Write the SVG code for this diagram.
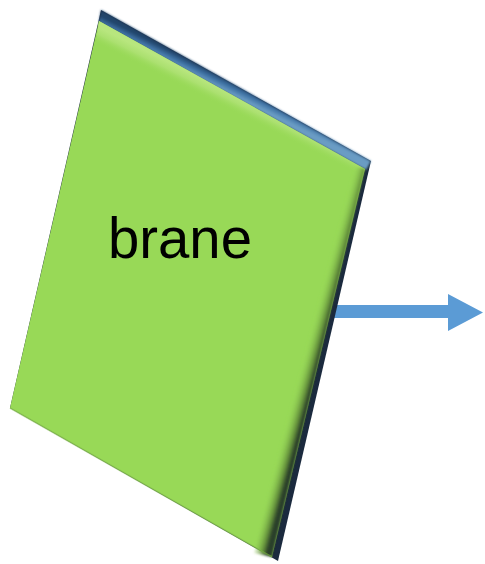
<svg xmlns="http://www.w3.org/2000/svg" width="485" height="564" viewBox="0 0 485 564">
  <style>
    .label { font-family: "Liberation Sans", Arial, sans-serif; font-size: 57px; fill: #000; }
    .arrow { fill: #5b9bd5; }
  </style>
  <defs>
    <!-- bevel along the top edge: dark blue rim fading into the face -->
    <linearGradient id="topRim" gradientUnits="userSpaceOnUse" x1="237" y1="84" x2="232" y2="94">
      <stop offset="0" stop-color="#22446a"/>
      <stop offset="0.5" stop-color="#3f72a4"/>
      <stop offset="1" stop-color="#6a9cc4"/>
    </linearGradient>
    <linearGradient id="topGlow" gradientUnits="userSpaceOnUse" x1="232" y1="94" x2="225" y2="108">
      <stop offset="0" stop-color="#b8e67e"/>
      <stop offset="0.4" stop-color="#b0e276" stop-opacity="0.8"/>
      <stop offset="1" stop-color="#98d957" stop-opacity="0"/>
    </linearGradient>
    <!-- shading along the right edge -->
    <linearGradient id="rightShade" gradientUnits="userSpaceOnUse" x1="318" y1="362" x2="303" y2="358">
      <stop offset="0" stop-color="#2b3f2a"/>
      <stop offset="0.3" stop-color="#5b8436" stop-opacity="0.85"/>
      <stop offset="1" stop-color="#98d957" stop-opacity="0"/>
    </linearGradient>
    <filter id="soft" x="-5%" y="-5%" width="110%" height="110%">
      <feGaussianBlur stdDeviation="0.8"/>
    </filter>
  </defs>

  <g id="connectors">
    <path class="arrow" d="M330,305 H448 V294 L483,312.5 L448,331 V318 H330 Z"/>
  </g>

  <g id="brane">
    <!-- dark outer rim -->
    <polygon points="101,10 371,161 278,561 10,408" fill="#1b2a3e"/>
    <!-- top bevel -->
    <polygon points="101,10 371,161 366,170 99,22" fill="url(#topRim)" filter="url(#soft)"/>
    <!-- face -->
    <polygon points="99,21 365,169 272,557 10,408" fill="#98d957"/>
    <polygon points="99,21 365,169 360,190 96,42" fill="url(#topGlow)"/>
    <polygon points="365,169 272,557 254,553 348,165" fill="url(#rightShade)" filter="url(#soft)"/>
    <polyline points="10,408 272,557" fill="none" stroke="#7fb848" stroke-width="1.5" opacity="0.6"/>
    <text class="label" x="108" y="258" textLength="144" lengthAdjust="spacingAndGlyphs">brane</text>
  </g>
</svg>
